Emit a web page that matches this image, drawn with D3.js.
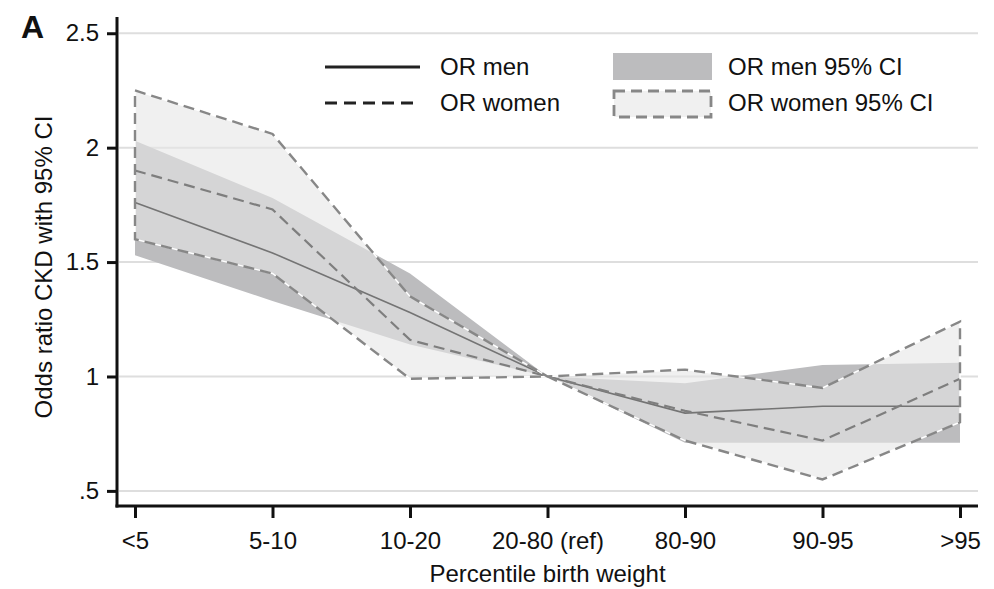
<!DOCTYPE html>
<html>
<head>
<meta charset="utf-8">
<script src="https://cdn.jsdelivr.net/npm/d3@7"></script>
<style>
  body { margin: 0; background: #fff; }
  text { font-family: "Liberation Sans", Arial, sans-serif; fill: #111; }
</style>
</head>
<body>
<script>
const width = 994
const height = 589

// percentile birth weight groups
const categories = ["<5", "5-10", "10-20", "20-80 (ref)", "80-90", "90-95", ">95"]
const yTicks = [0.5, 1, 1.5, 2, 2.5]

const menOR = [1.76, 1.54, 1.28, 1, 0.84, 0.87, 0.87]
const menLo = [1.53, 1.33, 1.14, 1, 0.71, 0.71, 0.71]
const menHi = [2.03, 1.78, 1.45, 1, 0.97, 1.05, 1.06]

const womenOR = [1.90, 1.73, 1.16, 1, 0.85, 0.72, 0.99]
const womenLo = [1.60, 1.45, 0.99, 1, 0.72, 0.55, 0.80]
const womenHi = [2.25, 2.06, 1.35, 1, 1.03, 0.95, 1.24]

const plot = ({left: 117, right: 978, top: 17, bottom: 506})

const men = categories.map((c, i) => ({c, or: menOR[i], lo: menLo[i], hi: menHi[i]}))
const women = categories.map((c, i) => ({c, or: womenOR[i], lo: womenLo[i], hi: womenHi[i]}))

const x = d3.scalePoint()
    .domain(categories)
    .range([135, 960])

const y = d3.scaleLinear()
    .domain([0.434, 2.571])
    .range([plot.bottom, plot.top])

const svg = d3.select("body").append("svg").attr("width", width).attr("height", height)

// gridlines
svg.append("g")
  .selectAll("line")
  .data(yTicks)
  .join("line")
    .attr("x1", plot.left + 2)
    .attr("x2", plot.right)
    .attr("y1", d => y(d))
    .attr("y2", d => y(d))
    .attr("stroke", "#dedede")
    .attr("stroke-width", 2)

const area = d3.area()
    .x(d => x(d.c))
    .y0(d => y(d.lo))
    .y1(d => y(d.hi))

const line = key => d3.line().x(d => x(d.c)).y(d => y(d[key]))

// men 95% CI
svg.append("path")
    .datum(men)
    .attr("d", area)
    .attr("fill", "#bcbcbe")

// women 95% CI
svg.append("path")
    .datum(women)
    .attr("d", area)
    .attr("fill", "#e6e6e6")
    .attr("fill-opacity", 0.6)

// OR lines
svg.append("path")
    .datum(men)
    .attr("d", line("or"))
    .attr("fill", "none")
    .attr("stroke", "#747474")
    .attr("stroke-width", 1.6)

svg.append("path")
    .datum(women)
    .attr("d", line("or"))
    .attr("fill", "none")
    .attr("stroke", "#7e7e7e")
    .attr("stroke-width", 2.2)
    .attr("stroke-dasharray", "11,6")

// women CI outline: white under grey dashes
svg.append("path")
    .datum(women)
    .attr("d", area)
    .attr("fill", "none")
    .attr("stroke", "#fff")
    .attr("stroke-width", 1.4)
svg.append("path")
    .datum(women)
    .attr("d", area)
    .attr("fill", "none")
    .attr("stroke", "#878787")
    .attr("stroke-width", 2.4)
    .attr("stroke-dasharray", "11,6")

// axes
svg.append("g")
    .attr("transform", `translate(${plot.left},0)`)
    .call(d3.axisLeft(y).tickValues(yTicks).tickSize(10).tickPadding(8)
        .tickFormat(d => d === 0.5 ? ".5" : d3.format("")(d)))
    .call(g => g.select(".domain").remove())
    .call(g => g.selectAll(".tick line").attr("stroke", "#111").attr("stroke-width", 3))
    .call(g => g.selectAll(".tick text").attr("font-size", 24).attr("font-family", null))

svg.append("g")
    .attr("transform", `translate(0,${plot.bottom})`)
    .call(d3.axisBottom(x).tickSize(12).tickPadding(14))
    .call(g => g.select(".domain").remove())
    .call(g => g.selectAll(".tick line").attr("stroke", "#111").attr("stroke-width", 3))
    .call(g => g.selectAll(".tick text").attr("font-size", 24).attr("font-family", null))

svg.append("line")
    .attr("x1", plot.left).attr("x2", plot.left)
    .attr("y1", plot.top).attr("y2", plot.bottom + 1.5)
    .attr("stroke", "#111").attr("stroke-width", 3)
svg.append("line")
    .attr("x1", plot.left - 1.5).attr("x2", plot.right)
    .attr("y1", plot.bottom).attr("y2", plot.bottom)
    .attr("stroke", "#111").attr("stroke-width", 3)

// titles
svg.append("text")
    .attr("x", (x.range()[0] + x.range()[1]) / 2)
    .attr("y", 582)
    .attr("text-anchor", "middle")
    .attr("font-size", 24)
    .text("Percentile birth weight")

svg.append("text")
    .attr("transform", "translate(52,267) rotate(-90)")
    .attr("text-anchor", "middle")
    .attr("font-size", 24)
    .text("Odds ratio CKD with 95% CI")

svg.append("text")
    .attr("x", 21)
    .attr("y", 38)
    .attr("font-size", 32)
    .attr("font-weight", "bold")
    .text("A")

// legend
const lg = svg.append("g")
lg.append("line")
    .attr("x1", 325).attr("x2", 420).attr("y1", 67).attr("y2", 67)
    .attr("stroke", "#222").attr("stroke-width", 2.8)
lg.append("line")
    .attr("x1", 325).attr("x2", 420).attr("y1", 103).attr("y2", 103)
    .attr("stroke", "#222").attr("stroke-width", 2.8)
    .attr("stroke-dasharray", "12,7")
lg.append("rect")
    .attr("x", 613).attr("y", 53).attr("width", 99).attr("height", 27)
    .attr("fill", "#bcbcbe")
lg.append("rect")
    .attr("x", 614).attr("y", 91).attr("width", 97).attr("height", 26)
    .attr("fill", "#e6e6e6").attr("fill-opacity", 0.6)
    .attr("stroke", "#878787").attr("stroke-width", 2.8)
    .attr("stroke-dasharray", "11,6")

const legendText = [
  {x: 440, y: 75, t: "OR men"},
  {x: 440, y: 111, t: "OR women"},
  {x: 728, y: 75, t: "OR men 95% CI"},
  {x: 728, y: 111, t: "OR women 95% CI"}
]
lg.selectAll("text.lab")
  .data(legendText)
  .join("text")
    .attr("class", "lab")
    .attr("x", d => d.x)
    .attr("y", d => d.y)
    .attr("font-size", 24)
    .text(d => d.t)
</script>
</body>
</html>
